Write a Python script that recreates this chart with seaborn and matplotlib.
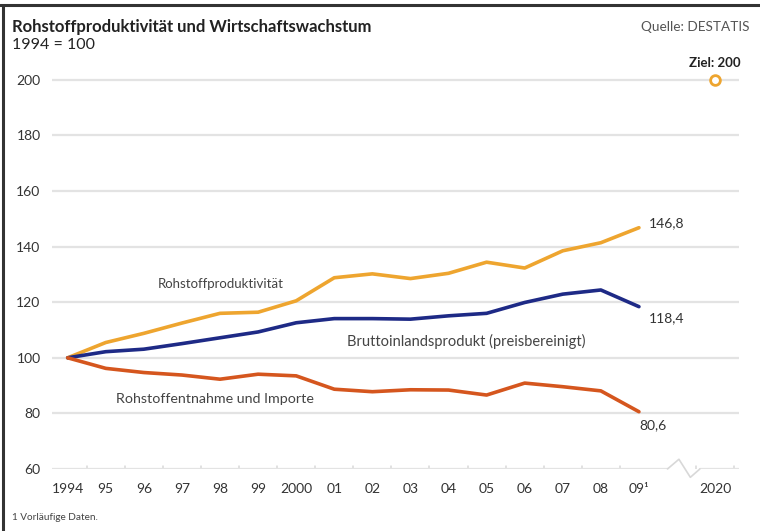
import pandas as pd
import matplotlib
matplotlib.use("Agg")
import matplotlib.pyplot as plt
from matplotlib.lines import Line2D
import seaborn as sns

# data (1994 = 100)
years = ["1994", "95", "96", "97", "98", "99", "2000", "01", "02", "03",
         "04", "05", "06", "07", "08", "09¹"]
produktivitaet = [100, 105.5, 108.8, 112.5, 116.0, 116.4, 120.5, 128.8, 130.2, 128.5,
                  130.4, 134.4, 132.3, 138.5, 141.4, 146.8]
bip = [100, 102.2, 103.1, 105.1, 107.2, 109.3, 112.6, 114.1, 114.1, 113.9,
       115.1, 116.0, 119.9, 122.9, 124.4, 118.4]
entnahme = [100, 96.2, 94.7, 93.8, 92.3, 94.1, 93.5, 88.7, 87.8, 88.5,
            88.4, 86.6, 90.9, 89.6, 88.1, 80.6]
ziel_jahr = "2020"
ziel_wert = 200

col_prod = "#eea52f"
col_bip = "#1e2a86"
col_ent = "#d5561e"

sns.set_style("white")
plt.rcParams['font.family'] = ['Lato', 'DejaVu Sans']

x = list(range(len(years)))
ziel_x = len(years) + 1
df = pd.DataFrame({
    "x": x * 3,
    "wert": produktivitaet + bip + entnahme,
    "reihe": ["prod"] * len(x) + ["bip"] * len(x) + ["ent"] * len(x),
})

fig = plt.figure(figsize=(7.6, 5.31), dpi=100)
ax = fig.add_axes([0.068, 0.1168, 0.905, 0.759])

sns.lineplot(data=df, x="x", y="wert", hue="reihe",
             palette={"prod": col_prod, "bip": col_bip, "ent": col_ent},
             linewidth=2.6, legend=False, ax=ax, zorder=3)

ax.plot([ziel_x], [ziel_wert], marker="o", markersize=7, markerfacecolor="white",
        markeredgecolor=col_prod, markeredgewidth=2, zorder=4)

ax.set_xlim(-0.42, 17.64)
ax.set_ylim(60, 205)
yt = [60, 80, 100, 120, 140, 160, 180, 200]
ax.set_yticks(yt)
ax.set_yticklabels([str(v) for v in yt])
for v in yt[1:]:
    ax.axhline(v, color="#e3e3e3", linewidth=1.6, zorder=1)

ax.set_xticks(x + [ziel_x])
ax.set_xticklabels(years + [ziel_jahr])
ax.tick_params(axis="both", length=0, labelsize=10, colors="#333333")
ax.tick_params(axis="x", pad=10)
ax.tick_params(axis="y", pad=8)
# small tick marks on the baseline
for t in [i + 0.5 for i in range(-1, len(years) - 1)] + [ziel_x - 0.5, ziel_x + 0.5]:
    ax.plot([t, t], [60, 61.2], color="#d8d8d8", linewidth=1.1, zorder=1)
# baseline with axis break
ax.plot([-0.42, 15.75], [60, 60], color="#e3e3e3", linewidth=1.6, zorder=1)
ax.plot([15.75, 16.05, 16.35, 16.6], [60, 63.5, 57, 60], color="#d8d8d8", linewidth=1.2,
        zorder=2, clip_on=False)
ax.plot([16.6, 17.64], [60, 60], color="#e3e3e3", linewidth=1.6, zorder=1)
ax.set_xlabel("")
ax.set_ylabel("")
for s in ax.spines.values():
    s.set_visible(False)

# series labels
ax.text(4.02, 126.6, "Rohstoffproduktivität", fontsize=9.5, color="#444444",
        ha="center", va="center")
ax.text(10.47, 105.7, "Bruttoinlandsprodukt (preisbereinigt)", fontsize=10.5,
        color="#444444", ha="center", va="center")
ax.text(3.86, 85.3, "Rohstoffentnahme und Importe", fontsize=10.3, color="#444444",
        ha="center", va="center")
ax.text(15.25, produktivitaet[-1] + 1.5, "146,8", fontsize=10, color="#333333",
        ha="left", va="center")
ax.text(15.25, bip[-1] - 4.0, "118,4", fontsize=10, color="#333333",
        ha="left", va="center")
ax.text(15.0, entnahme[-1] - 5.0, "80,6", fontsize=10, color="#333333",
        ha="left", va="center")
ax.text(ziel_x, ziel_wert + 6, "Ziel: 200", fontsize=9.5, fontweight="bold",
        color="#222222", ha="center", va="center")

# header / footer
fig.text(0.016, 0.949, "Rohstoffproduktivität und Wirtschaftswachstum", fontsize=12,
         fontweight="bold", color="#222222", ha="left", va="center")
fig.text(0.016, 0.915, "1994 = 100", fontsize=11.5, color="#222222", ha="left", va="center")
fig.text(0.986, 0.949, "Quelle: DESTATIS", fontsize=9.8, color="#555555",
         ha="right", va="center")
fig.text(0.016, 0.026, "1 Vorläufige Daten.", fontsize=7.2, color="#444444",
         ha="left", va="center")

fig.add_artist(Line2D([0.0, 1.0], [0.99, 0.99], color="#333333", linewidth=2.2))
fig.add_artist(Line2D([0.004, 0.004], [0.0, 0.99], color="#333333", linewidth=2.2))

fig.savefig("out.png", dpi=100)
